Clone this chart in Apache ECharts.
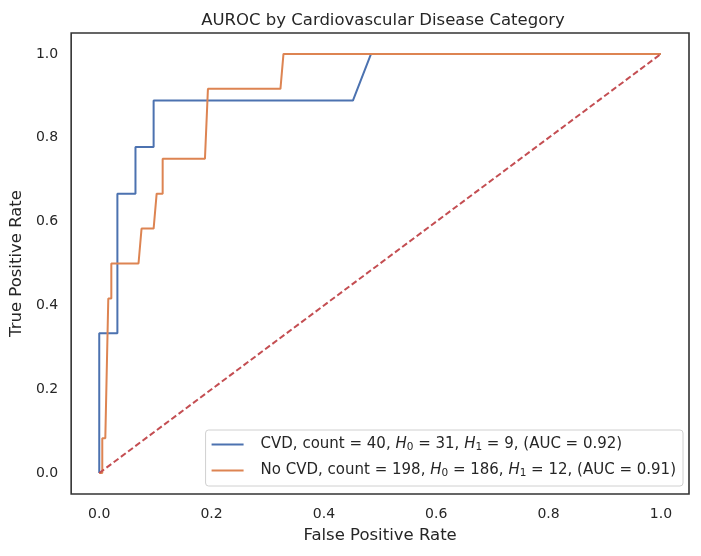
<!DOCTYPE html>
<html>
<head>
<meta charset="utf-8">
<script src="https://cdn.jsdelivr.net/npm/echarts@6/dist/echarts.min.js"></script>
<style>html,body{margin:0;padding:0;background:#fff}#c{width:701px;height:556px}</style>
</head>
<body>
<div id="c"></div>
<script>
// CVD ROC curve (31 negatives, 9 positives)
const cvdFpr = [0, 0, 0.0323, 0.0323, 0.0645, 0.0645, 0.0968, 0.0968, 0.4516, 0.4839, 1.0];
const cvdTpr = [0, 0.3333, 0.3333, 0.6667, 0.6667, 0.7778, 0.7778, 0.8889, 0.8889, 1.0, 1.0];
// No CVD ROC curve (186 negatives, 12 positives)
const noCvdFpr = [0, 0.0054, 0.0054, 0.0108, 0.0161, 0.0215, 0.0215, 0.0699, 0.0753, 0.0968, 0.1022, 0.1129, 0.1129, 0.1882, 0.1935, 0.3226, 0.3280, 1.0];
const noCvdTpr = [0, 0, 0.0833, 0.0833, 0.4167, 0.4167, 0.5, 0.5, 0.5833, 0.5833, 0.6667, 0.6667, 0.75, 0.75, 0.9167, 0.9167, 1.0, 1.0];
const chanceFpr = [0, 1];
const chanceTpr = [0, 1];
const tickValues = [0, 0.2, 0.4, 0.6, 0.8, 1.0];
const seriesNames = ['CVD, count = 40, H0 = 31, H1 = 9, (AUC = 0.92)', 'No CVD, count = 198, H0 = 186, H1 = 12, (AUC = 0.91)'];
const titleText = 'AUROC by Cardiovascular Disease Category';

const zip = (a, b) => a.map((v, i) => [v, b[i]]);
const font = 'DejaVu Sans';
const txt = '#262626';

const chart = echarts.init(document.getElementById('c'), null, {renderer: 'canvas'});
chart.setOption({
  animation: false,
  backgroundColor: '#fff',
  title: {
    text: titleText, left: 378, top: 7, textAlign: 'center',
    textStyle: {fontFamily: font, fontSize: 16.5, fontWeight: 'normal', color: txt}
  },
  grid: {left: 70, right: 12, top: 33, bottom: 62, show: true, borderColor: '#333', borderWidth: 1.6, backgroundColor: '#fff'},
  xAxis: {
    type: 'value', min: -0.05, max: 1.05,
    name: 'False Positive Rate', nameLocation: 'middle', nameGap: 33,
    nameTextStyle: {fontFamily: font, fontSize: 16.5, color: txt},
    axisLine: {show: false}, axisTick: {show: false}, splitLine: {show: false},
    axisLabel: {customValues: tickValues, formatter: v => v.toFixed(1), fontFamily: font, fontSize: 14, color: txt, margin: 13}
  },
  yAxis: {
    type: 'value', min: -0.05, max: 1.05,
    name: 'True Positive Rate', nameLocation: 'middle', nameGap: 42,
    nameTextStyle: {fontFamily: font, fontSize: 16.5, color: txt},
    axisLine: {show: false}, axisTick: {show: false}, splitLine: {show: false},
    axisLabel: {customValues: tickValues, formatter: v => v.toFixed(1), fontFamily: font, fontSize: 14, color: txt, margin: 13}
  },
  legend: {
    data: seriesNames, orient: 'vertical', right: 18, bottom: 70,
    icon: 'rect', itemWidth: 32, itemHeight: 2, itemGap: 10,
    padding: [7, 7, 7, 6],
    backgroundColor: '#fff', borderColor: '#d0d0d0', borderWidth: 1, borderRadius: 3,
    formatter: name => '{g| }' + name.replace(/H([01])/g, '{i|H}{s|$1}'),
    textStyle: {
      fontFamily: font, fontSize: 15, color: txt,
      rich: {
        g: {width: 12, fontSize: 15},
        i: {fontFamily: font, fontStyle: 'italic', fontSize: 15, color: txt},
        s: {fontFamily: font, fontSize: 10.5, color: txt, verticalAlign: 'bottom', padding: [6, 0, 0, 0]}
      }
    }
  },
  series: [
    {name: seriesNames[0], type: 'line', data: zip(cvdFpr, cvdTpr), showSymbol: false, symbol: 'none',
     lineStyle: {color: '#4C72B0', width: 2}, itemStyle: {color: '#4C72B0'}, z: 3},
    {name: seriesNames[1], type: 'line', data: zip(noCvdFpr, noCvdTpr), showSymbol: false, symbol: 'none',
     lineStyle: {color: '#DD8452', width: 2}, itemStyle: {color: '#DD8452'}, z: 3},
    {name: 'chance', type: 'line', data: zip(chanceFpr, chanceTpr), showSymbol: false, symbol: 'none',
     lineStyle: {color: '#C44E52', width: 2, type: [6, 3]}, z: 4}
  ]
});
</script>
</body>
</html>
